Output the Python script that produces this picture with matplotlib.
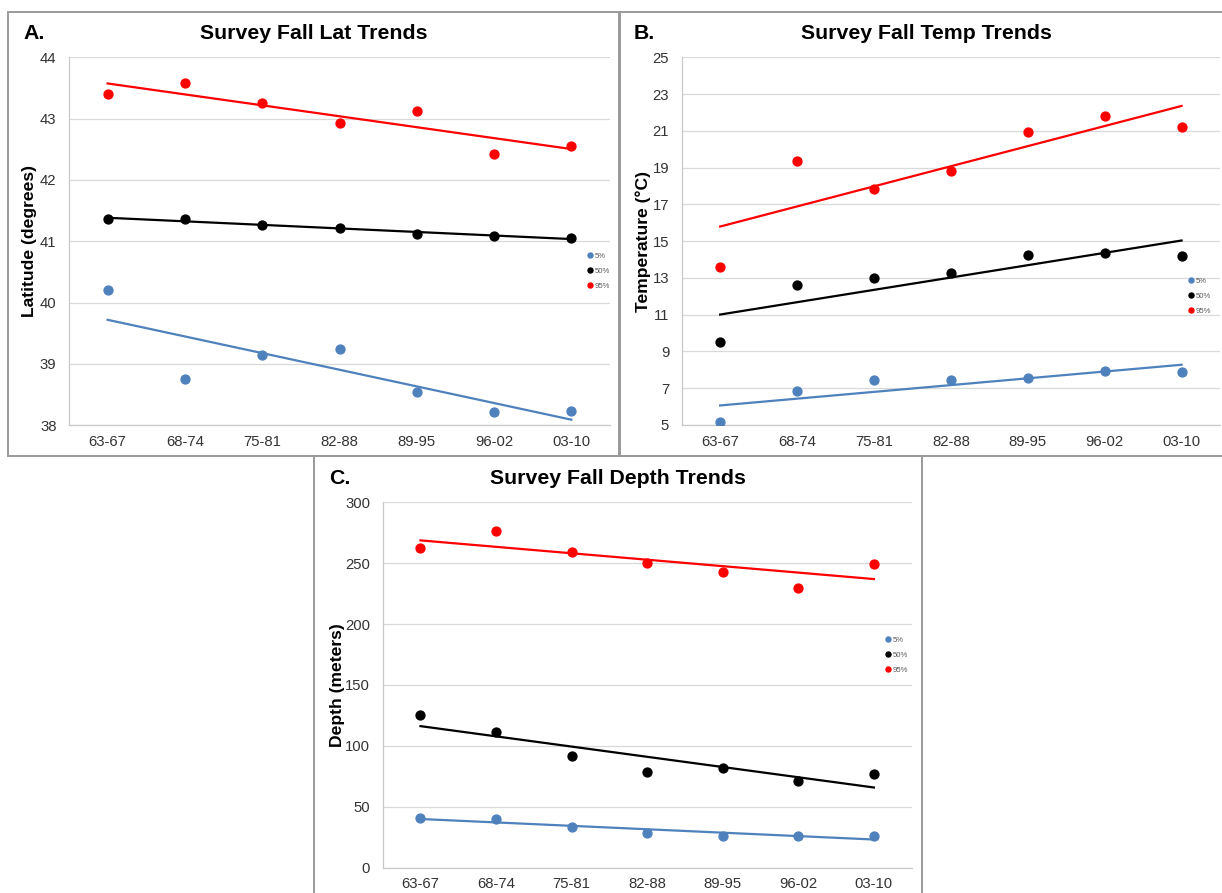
import numpy as np
import matplotlib
matplotlib.use("Agg")
import matplotlib.pyplot as plt
from matplotlib.lines import Line2D
from matplotlib.patches import Rectangle

plt.rcParams['font.family'] = ['Liberation Sans', 'DejaVu Sans']

# ---- data -------------------------------------------------------------
periods = ["63-67", "68-74", "75-81", "82-88", "89-95", "96-02", "03-10"]
series_names = ["5%", "50%", "95%"]

lat_p05 = [40.21, 38.75, 39.15, 39.24, 38.54, 38.21, 38.24]
lat_p50 = [41.36, 41.36, 41.27, 41.22, 41.12, 41.09, 41.05]
lat_p95 = [43.40, 43.58, 43.26, 42.93, 43.12, 42.43, 42.55]

temp_p05 = [5.18, 6.83, 7.43, 7.43, 7.54, 7.92, 7.86]
temp_p50 = [9.49, 12.64, 12.97, 13.26, 14.24, 14.38, 14.17]
temp_p95 = [13.62, 19.38, 17.84, 18.79, 20.91, 21.78, 21.20]

depth_p05 = [40.5, 40.0, 33.4, 28.7, 26.3, 26.0, 26.0]
depth_p50 = [125.6, 111.4, 91.4, 78.8, 81.5, 71.4, 77.2]
depth_p95 = [262.2, 276.7, 259.2, 249.9, 242.5, 229.9, 249.6]

colors = ["#4F81BD", "#000000", "#FF0000"]

W, H = 1222, 893
fig = plt.figure(figsize=(W / 100, H / 100), dpi=100)
fig.patch.set_facecolor("white")


def px_rect(l, t, r, b):
    return [l / W, 1 - b / H, (r - l) / W, (b - t) / H]


def fx(x):
    return x / W


def fy(y):
    return 1 - y / H


def panel(rect, series, ylim, yticks, ylabel, ylabel_x, legend_xy):
    ax = fig.add_axes(rect)
    x = np.arange(len(periods))
    for vals, c, name in zip(series, colors, series_names):
        vals = np.asarray(vals)
        ax.plot(x, vals, "o", color=c, markersize=6.4, zorder=3, label=name)
        # linear trend line through each percentile series
        k, b0 = np.polyfit(x, vals, 1)
        ax.plot(x, k * x + b0, "-", color=c, lw=1.6, zorder=2)
    ax.set_xlim(-0.5, len(periods) - 0.5)
    ax.set_ylim(*ylim)
    ax.set_yticks(yticks)
    ax.set_xticks(x)
    ax.set_xticklabels(periods)
    ax.grid(axis="y", color="#d9d9d9", lw=0.9)
    ax.set_axisbelow(True)
    for s in ["top", "right"]:
        ax.spines[s].set_visible(False)
    for s in ["left", "bottom"]:
        ax.spines[s].set_color("#c8c8c8")
        ax.spines[s].set_linewidth(0.9)
    ax.tick_params(axis="both", length=0, labelsize=10.7, colors="#333333")
    ax.tick_params(axis="x", pad=7)
    ax.tick_params(axis="y", pad=9)
    for lab in ax.get_xticklabels() + ax.get_yticklabels():
        lab.set_color("#333333")
    yc = (1 - (rect[1] + rect[3] / 2)) * H
    fig.text(fx(ylabel_x), fy(yc), ylabel, rotation=90, ha="center",
             va="center", fontsize=12.6, fontweight="bold")
    handles = [Line2D([], [], ls="none", marker="o", color=c, markersize=3.6)
               for c in colors]
    ax.legend(handles, series_names, loc="center left",
              bbox_to_anchor=(fx(legend_xy[0]), fy(legend_xy[1])),
              bbox_transform=fig.transFigure, frameon=False, fontsize=5.6,
              handlelength=0.6, handletextpad=0.3, borderpad=0,
              borderaxespad=0, labelspacing=0.95, labelcolor="#595959")
    return ax


panel(px_rect(69, 57.3, 610, 425.3), [lat_p05, lat_p50, lat_p95],
      (38, 44), np.arange(38, 45, 1), "Latitude (degrees)", 30, (588, 271))
panel(px_rect(681.7, 57.3, 1220, 425), [temp_p05, temp_p50, temp_p95],
      (5, 25), np.arange(5, 26, 2), "Temperature (°C)", 643, (1189, 296))
panel(px_rect(382.7, 502.3, 911.7, 867.7), [depth_p05, depth_p50, depth_p95],
      (0, 300), np.arange(0, 301, 50), "Depth (meters)", 337, (886, 655))

# panel titles and letters
title_kw = dict(va="baseline", fontsize=15.3, fontweight="bold")
fig.text(fx(314), fy(39.3), "Survey Fall Lat Trends", ha="center", **title_kw)
fig.text(fx(23), fy(39.3), "A.", ha="left", **title_kw)
fig.text(fx(926), fy(39.3), "Survey Fall Temp Trends", ha="center", **title_kw)
fig.text(fx(634), fy(39.3), "B.", ha="left", **title_kw)
fig.text(fx(618), fy(484), "Survey Fall Depth Trends", ha="center", **title_kw)
fig.text(fx(329), fy(484), "C.", ha="left", **title_kw)

# panel frames
frame_kw = dict(fill=False, edgecolor="#9a9a9a", lw=1.4,
                transform=fig.transFigure, clip_on=False)
for (l, t, r, b) in [(8, 12, 620, 456), (619, 12, 1230, 456),
                     (314, 456, 922, 900)]:
    fig.add_artist(Rectangle((fx(l), fy(b)), (r - l) / W, (b - t) / H,
                             **frame_kw))

fig.savefig("out.png", dpi=100, facecolor="white")
